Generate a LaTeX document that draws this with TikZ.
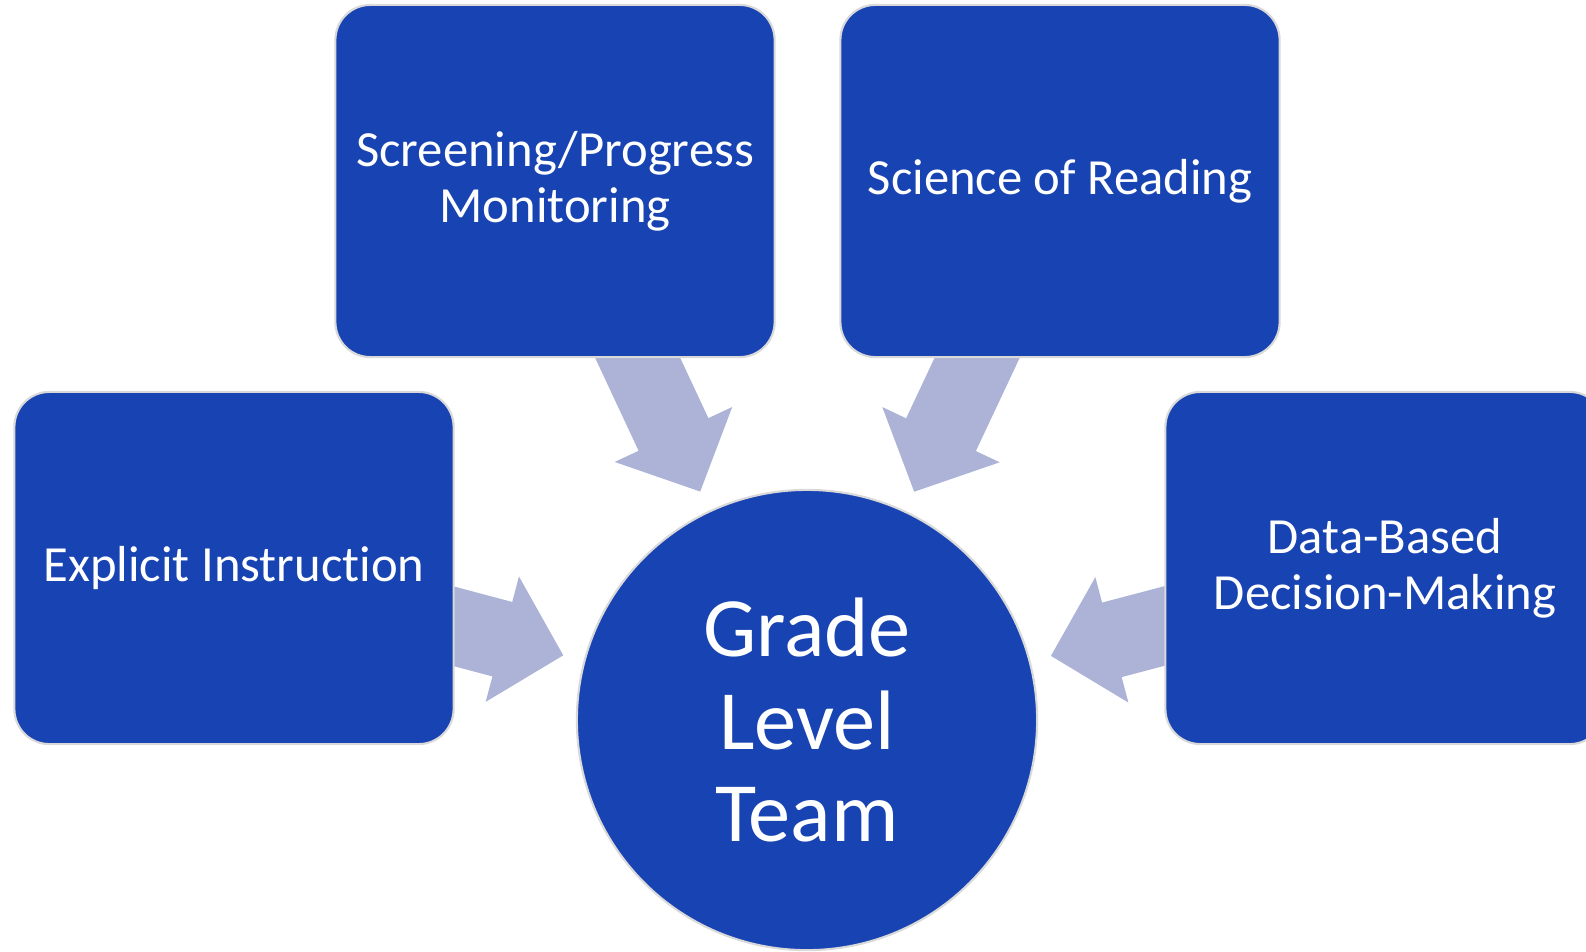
\documentclass[tikz,border=0pt]{standalone}
\usepackage{fontspec}
\setmainfont{Carlito}[Ligatures=NoCommon]
\usetikzlibrary{arrows.meta,backgrounds}
\definecolor{boxblue}{RGB}{24,67,178}
\definecolor{arrowblue}{RGB}{172,179,215}
\tikzset{
  topic/.style={draw=black!15, line width=0.6pt, fill=boxblue, rounded corners=0.35cm,
    minimum width=4.39cm, minimum height=3.52cm, inner sep=0pt,
    text=white, align=center, font=\fontsize{14.4}{15.8}\selectfont},
  team/.style={circle, draw=black!15, line width=0.6pt, fill=boxblue,
    minimum size=4.6cm, inner sep=0pt,
    text=white, align=center, font=\fontsize{24}{26.2}\selectfont},
  bigarrow/.style={draw=arrowblue, line width=0.77cm,
    -{Triangle[width=1.29cm, length=0.63cm, line width=1pt]},
    shorten <=-0.4cm, shorten >=0.21cm}
}
\begin{document}
\begin{tikzpicture}[x=0.01cm, y=-0.01cm]
\useasboundingbox (0,0) rectangle (1586,951);

%Topics
\node[topic] (scr) at (555,181) {Screening/Progress\\Monitoring};
\node[topic] (sci) at (1060,181) {Science of Reading};
\node[topic] (exp) at (234,568) {Explicit Instruction};
\node[topic] (dat) at (1385,568) {Data-Based\\Decision-Making};

%Team
\node[team] (team) at (807,720) {Grade\\Level\\Team};

%Arrows
\begin{scope}[on background layer]
\draw[bigarrow] (scr) -- (team);
\draw[bigarrow] (sci) -- (team);
\draw[bigarrow] (exp) -- (team);
\draw[bigarrow] (dat) -- (team);
\end{scope}
\end{tikzpicture}
\end{document}
